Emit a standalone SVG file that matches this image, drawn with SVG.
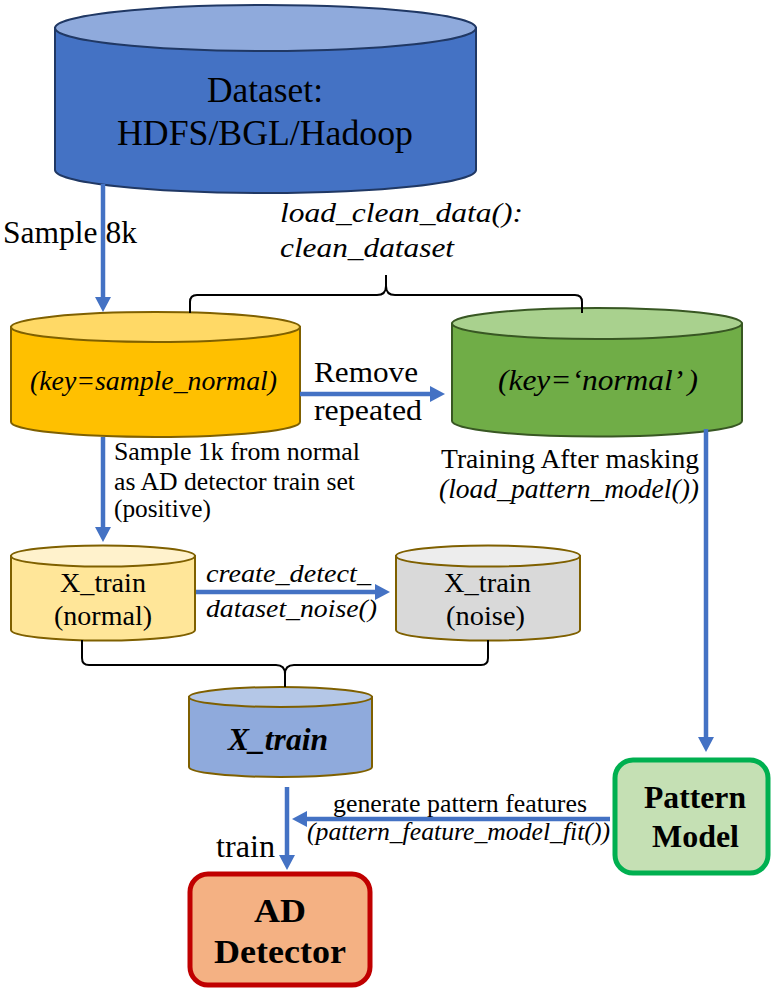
<svg xmlns="http://www.w3.org/2000/svg" width="775" height="994" viewBox="0 0 775 994">
<style>
text{font-family:"Liberation Serif","Times New Roman",serif;fill:#000}
.it{font-style:italic}
.b{font-weight:bold}
.cyl{stroke-width:2}
.arr{stroke:#4472C4;stroke-width:4.5;fill:none;marker-end:url(#ah)}
.brace{stroke:#000;stroke-width:2;fill:none}
</style>
<defs>
<marker id="ah" markerUnits="userSpaceOnUse" markerWidth="16" markerHeight="16" refX="9" refY="8" orient="auto">
<path d="M0,0 L15,8 L0,16 z" fill="#4472C4"/>
</marker>
</defs>
<rect width="775" height="994" fill="#fff"/>

<g id="dataset">
<path class="cyl" d="M55,28 V170 A210.5,23 0 0 0 476,170 V28 Z" fill="#4472C4" stroke="#203864"/>
<ellipse class="cyl" cx="265.5" cy="28" rx="210.5" ry="23" fill="#8FAADC" stroke="#203864"/>
<text x="207" y="102" font-size="35.5" textLength="116" lengthAdjust="spacingAndGlyphs">Dataset:</text>
<text x="117" y="145" font-size="35.5" textLength="296" lengthAdjust="spacingAndGlyphs">HDFS/BGL/Hadoop</text>
</g>

<g id="sample_normal">
<path class="cyl" d="M11,327 V422 A144.5,15 0 0 0 300,422 V327 Z" fill="#FFC000" stroke="#7F6000"/>
<ellipse class="cyl" cx="155.5" cy="327" rx="144.5" ry="15" fill="#FFD966" stroke="#7F6000"/>
<text class="it" x="30" y="390" font-size="27" textLength="247" lengthAdjust="spacingAndGlyphs">(key=sample_normal)</text>
</g>

<g id="normal">
<path class="cyl" d="M452,323.5 V421 A145,15.5 0 0 0 742,421 V323.5 Z" fill="#70AD47" stroke="#385723"/>
<ellipse class="cyl" cx="597" cy="323.5" rx="145" ry="15.5" fill="#A9D18E" stroke="#385723"/>
<text class="it" x="498" y="390" font-size="30" textLength="200" lengthAdjust="spacingAndGlyphs">(key=‘normal’ )</text>
</g>

<g id="xtrain_normal">
<path class="cyl" d="M11,556 V630 A92,10.5 0 0 0 195,630 V556 Z" fill="#FFE699" stroke="#7F6000"/>
<ellipse class="cyl" cx="103" cy="556" rx="92" ry="10.5" fill="#FFF2CC" stroke="#7F6000"/>
<text x="60" y="592" font-size="28" textLength="86" lengthAdjust="spacingAndGlyphs">X_train</text>
<text x="54" y="625" font-size="28" textLength="98" lengthAdjust="spacingAndGlyphs">(normal)</text>
</g>

<g id="xtrain_noise">
<path class="cyl" d="M396,556 V630 A92,10.5 0 0 0 580,630 V556 Z" fill="#D9D9D9" stroke="#7F6000"/>
<ellipse class="cyl" cx="488" cy="556" rx="92" ry="10.5" fill="#EDEDED" stroke="#7F6000"/>
<text x="444" y="592" font-size="28" textLength="87" lengthAdjust="spacingAndGlyphs">X_train</text>
<text x="446" y="625" font-size="28" textLength="79" lengthAdjust="spacingAndGlyphs">(noise)</text>
</g>

<g id="xtrain">
<path class="cyl" d="M189,697 V767 A91.5,10 0 0 0 372,767 V697 Z" fill="#8FAADC" stroke="#7F6000"/>
<ellipse class="cyl" cx="280.5" cy="697" rx="91.5" ry="10" fill="#B4C7E7" stroke="#7F6000"/>
<text class="it b" x="228" y="750" font-size="31" textLength="100" lengthAdjust="spacingAndGlyphs">X_train</text>
</g>

<g id="pattern_model">
<rect x="615" y="760" width="153" height="113" rx="18" fill="#C5E0B4" stroke="#00B050" stroke-width="5"/>
<text class="b" x="644" y="808" font-size="32" textLength="102" lengthAdjust="spacingAndGlyphs">Pattern</text>
<text class="b" x="652" y="847" font-size="32" textLength="87" lengthAdjust="spacingAndGlyphs">Model</text>
</g>

<g id="ad_detector">
<rect x="190" y="874" width="180" height="111" rx="18" fill="#F4B183" stroke="#C00000" stroke-width="5"/>
<text class="b" x="254" y="922" font-size="34" textLength="52" lengthAdjust="spacingAndGlyphs">AD</text>
<text class="b" x="214" y="963" font-size="34" textLength="132" lengthAdjust="spacingAndGlyphs">Detector</text>
</g>

<g id="connectors">
<path class="brace" d="M190,313 V302 Q190,295 197,295 H377 Q386,295 386,286 V275 M386,275 V286 Q386,295 395,295 H575 Q582,295 582,302 V313"/>
<path class="brace" d="M82,640 V658 Q82,665 89,665 H276 Q285,665 285,674 V687 M285,687 V674 Q285,665 294,665 H481 Q488,665 488,658 V640"/>
<line class="arr" x1="103" y1="184" x2="103" y2="306"/>
<line class="arr" x1="300" y1="394" x2="439" y2="394"/>
<line class="arr" x1="103" y1="437" x2="103" y2="536"/>
<line class="arr" x1="706" y1="429" x2="706" y2="746"/>
<line class="arr" x1="196" y1="592" x2="384" y2="592"/>
<line class="arr" x1="287" y1="787" x2="287" y2="864"/>
<line class="arr" x1="610" y1="819" x2="298" y2="819"/>
<text x="3" y="243" font-size="31" textLength="134" lengthAdjust="spacingAndGlyphs">Sample 8k</text>
<text class="it" x="280" y="222" font-size="28" textLength="243" lengthAdjust="spacingAndGlyphs">load_clean_data():</text>
<text class="it" x="280" y="257" font-size="28" textLength="174" lengthAdjust="spacingAndGlyphs">clean_dataset</text>
<text x="314" y="382" font-size="29" textLength="104" lengthAdjust="spacingAndGlyphs">Remove</text>
<text x="314" y="420" font-size="29" textLength="108" lengthAdjust="spacingAndGlyphs">repeated</text>
<text x="114" y="460" font-size="25" textLength="246" lengthAdjust="spacingAndGlyphs">Sample 1k from normal</text>
<text x="114" y="490" font-size="25" textLength="241" lengthAdjust="spacingAndGlyphs">as AD detector train set</text>
<text x="114" y="517" font-size="25" textLength="97" lengthAdjust="spacingAndGlyphs">(positive)</text>
<text x="441" y="468" font-size="27" textLength="258" lengthAdjust="spacingAndGlyphs">Training After masking</text>
<text class="it" x="439" y="498" font-size="27" textLength="260" lengthAdjust="spacingAndGlyphs">(load_pattern_model())</text>
<text class="it" x="206" y="582" font-size="26" textLength="165" lengthAdjust="spacingAndGlyphs">create_detect_</text>
<text class="it" x="206" y="617" font-size="26" textLength="171" lengthAdjust="spacingAndGlyphs">dataset_noise()</text>
<text x="216" y="857" font-size="31" textLength="59" lengthAdjust="spacingAndGlyphs">train</text>
<text x="333" y="812" font-size="25.5" textLength="254" lengthAdjust="spacingAndGlyphs">generate pattern features</text>
<text class="it" x="307" y="840" font-size="25.5" textLength="303" lengthAdjust="spacingAndGlyphs">(pattern_feature_model_fit())</text>
</g>
</svg>
